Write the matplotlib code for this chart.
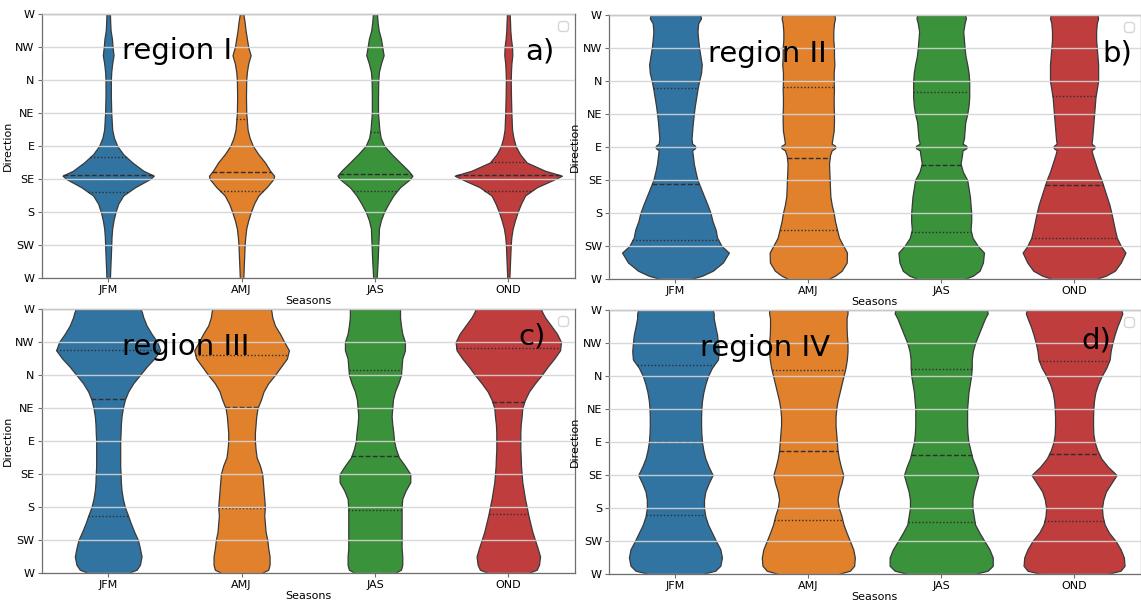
import numpy as np
import matplotlib
matplotlib.use("Agg")
import matplotlib.pyplot as plt

# ---------------- data ----------------
seasons = ["JFM", "AMJ", "JAS", "OND"]
direction_labels = ["W", "SW", "S", "SE", "E", "NE", "N", "NW", "W"]
colors = ["#3274a1", "#e1812c", "#3a923a", "#c03d3e"]

regions = ["region I", "region II", "region III", "region IV"]
panel_tags = ["a)", "b)", "c)", "d)"]

# density half-widths (in category units) read at the given direction levels
y_a = [0, 0.5, 1, 1.25, 1.5, 1.75, 2, 2.25, 2.5, 2.75, 3, 3.1, 3.25, 3.5, 3.75,
       4, 4.25, 4.5, 5, 5.5, 6, 6.25, 6.5, 6.75, 7, 7.25, 7.5, 7.75, 8]
a_jfm = [0.013, 0.018, 0.023, 0.025, 0.030, 0.040, 0.055, 0.075, 0.113, 0.201, 0.314, 0.342, 0.264, 0.181, 0.113,
         0.068, 0.043, 0.030, 0.023, 0.020, 0.020, 0.023, 0.030, 0.040, 0.033, 0.028, 0.018, 0.015, 0.013]
a_amj = [0.013, 0.018, 0.023, 0.028, 0.035, 0.050, 0.070, 0.093, 0.126, 0.188, 0.239, 0.244, 0.214, 0.176, 0.126,
         0.085, 0.060, 0.045, 0.035, 0.033, 0.035, 0.040, 0.050, 0.068, 0.050, 0.040, 0.030, 0.023, 0.013]
a_jas = [0.013, 0.020, 0.025, 0.028, 0.030, 0.045, 0.068, 0.101, 0.138, 0.188, 0.264, 0.281, 0.251, 0.188, 0.126,
         0.070, 0.043, 0.033, 0.023, 0.023, 0.025, 0.030, 0.045, 0.065, 0.055, 0.045, 0.028, 0.020, 0.015]
a_ond = [0.008, 0.013, 0.018, 0.023, 0.033, 0.050, 0.070, 0.095, 0.126, 0.214, 0.352, 0.402, 0.276, 0.138, 0.088,
         0.055, 0.038, 0.028, 0.023, 0.020, 0.018, 0.020, 0.023, 0.030, 0.028, 0.020, 0.015, 0.013, 0.010]

y_b = [0, 0.1, 0.25, 0.5, 0.8, 1, 1.25, 1.5, 1.75, 2, 2.25, 2.5, 2.75, 3, 3.25, 3.5, 3.75, 3.9, 3.96, 4, 4.04, 4.1,
       4.25, 4.5, 4.75, 5, 5.25, 5.5, 5.75, 6, 6.25, 6.5, 6.75, 7, 7.25, 7.5, 7.75, 7.9, 8]
b_jfm = [0.113, 0.201, 0.281, 0.357, 0.402, 0.347, 0.314, 0.302, 0.279, 0.264, 0.241, 0.216, 0.191, 0.166, 0.151,
         0.138, 0.131, 0.126, 0.146, 0.151, 0.146, 0.126, 0.121, 0.126, 0.131, 0.138, 0.146, 0.156, 0.166, 0.178,
         0.193, 0.198, 0.188, 0.178, 0.171, 0.166, 0.171, 0.193, 0.186]
b_amj = [0.151, 0.201, 0.251, 0.289, 0.291, 0.264, 0.231, 0.216, 0.201, 0.191, 0.176, 0.166, 0.163, 0.161, 0.158,
         0.156, 0.163, 0.176, 0.200, 0.206, 0.200, 0.176, 0.181, 0.191, 0.193, 0.193, 0.191, 0.191, 0.193, 0.191,
         0.191, 0.196, 0.193, 0.193, 0.188, 0.188, 0.193, 0.201, 0.196]
b_jas = [0.176, 0.239, 0.289, 0.314, 0.322, 0.276, 0.236, 0.221, 0.226, 0.226, 0.221, 0.216, 0.206, 0.196, 0.163,
         0.146, 0.156, 0.161, 0.188, 0.193, 0.188, 0.161, 0.171, 0.176, 0.181, 0.196, 0.206, 0.211, 0.211, 0.211,
         0.206, 0.196, 0.183, 0.176, 0.171, 0.166, 0.176, 0.186, 0.181]
b_ond = [0.163, 0.239, 0.307, 0.352, 0.387, 0.352, 0.322, 0.307, 0.294, 0.281, 0.266, 0.246, 0.226, 0.206, 0.181,
         0.161, 0.141, 0.131, 0.151, 0.156, 0.151, 0.131, 0.136, 0.141, 0.146, 0.151, 0.156, 0.161, 0.171, 0.181,
         0.181, 0.181, 0.176, 0.171, 0.166, 0.166, 0.171, 0.181, 0.176]

y_cd = [0, 0.1, 0.25, 0.5, 0.75, 1, 1.25, 1.5, 1.75, 2, 2.25, 2.5, 2.75, 3, 3.25, 3.5, 3.75, 4,
        4.25, 4.5, 4.75, 5, 5.25, 5.5, 5.75, 6, 6.25, 6.5, 6.75, 7, 7.25, 7.5, 7.75, 7.9, 8]
c_jfm = [0.150, 0.213, 0.238, 0.250, 0.238, 0.223, 0.195, 0.170, 0.148, 0.125, 0.110, 0.100, 0.095, 0.093, 0.090,
         0.090, 0.090, 0.090, 0.093, 0.095, 0.100, 0.110, 0.125, 0.150, 0.188, 0.238, 0.288, 0.345, 0.390, 0.368,
         0.325, 0.288, 0.263, 0.253, 0.243]
c_amj = [0.150, 0.200, 0.210, 0.210, 0.200, 0.193, 0.180, 0.175, 0.170, 0.175, 0.170, 0.165, 0.160, 0.155, 0.138,
         0.113, 0.105, 0.100, 0.100, 0.105, 0.110, 0.120, 0.145, 0.165, 0.200, 0.250, 0.295, 0.340, 0.355, 0.320,
         0.288, 0.250, 0.230, 0.225, 0.220]
c_jas = [0.150, 0.195, 0.205, 0.205, 0.200, 0.200, 0.200, 0.200, 0.200, 0.200, 0.205, 0.230, 0.265, 0.265, 0.225,
         0.180, 0.158, 0.143, 0.138, 0.130, 0.125, 0.130, 0.135, 0.150, 0.175, 0.195, 0.200, 0.205, 0.225, 0.225,
         0.205, 0.195, 0.188, 0.188, 0.188]
c_ond = [0.150, 0.213, 0.230, 0.238, 0.220, 0.200, 0.180, 0.165, 0.150, 0.138, 0.125, 0.115, 0.105, 0.100, 0.095,
         0.093, 0.090, 0.090, 0.090, 0.093, 0.100, 0.105, 0.125, 0.155, 0.200, 0.250, 0.295, 0.345, 0.388, 0.395,
         0.365, 0.320, 0.275, 0.255, 0.245]

d_jfm = [0.200, 0.300, 0.338, 0.350, 0.338, 0.305, 0.275, 0.245, 0.225, 0.215, 0.215, 0.225, 0.250, 0.280, 0.250,
         0.225, 0.210, 0.200, 0.195, 0.193, 0.193, 0.195, 0.200, 0.210, 0.225, 0.245, 0.275, 0.320, 0.325, 0.320,
         0.313, 0.300, 0.288, 0.288, 0.280]
d_amj = [0.225, 0.313, 0.345, 0.350, 0.338, 0.313, 0.288, 0.265, 0.250, 0.230, 0.220, 0.230, 0.250, 0.263, 0.245,
         0.230, 0.220, 0.215, 0.210, 0.205, 0.205, 0.210, 0.220, 0.235, 0.250, 0.265, 0.280, 0.290, 0.295, 0.295,
         0.290, 0.288, 0.288, 0.295, 0.295]
d_jas = [0.250, 0.350, 0.388, 0.388, 0.363, 0.325, 0.288, 0.255, 0.245, 0.235, 0.235, 0.245, 0.263, 0.280, 0.260,
         0.235, 0.220, 0.205, 0.198, 0.195, 0.195, 0.195, 0.200, 0.205, 0.215, 0.225, 0.230, 0.230, 0.238, 0.255,
         0.280, 0.305, 0.330, 0.350, 0.345]
d_ond = [0.250, 0.350, 0.380, 0.375, 0.350, 0.313, 0.263, 0.230, 0.215, 0.210, 0.220, 0.240, 0.280, 0.320, 0.255,
         0.205, 0.175, 0.155, 0.145, 0.143, 0.143, 0.145, 0.150, 0.160, 0.180, 0.208, 0.243, 0.268, 0.275, 0.288,
         0.305, 0.325, 0.350, 0.363, 0.355]

# quartiles (Q1, median, Q3) per season, per region
quart_a = [[2.61, 3.11, 3.67], [2.63, 3.22, 4.81], [2.65, 3.16, 4.43], [2.65, 3.11, 3.53]]
quart_b = [[1.17, 2.89, 5.78], [1.50, 3.68, 5.81], [1.43, 3.46, 5.67], [1.24, 2.86, 5.55]]
quart_c = [[1.73, 5.28, 6.77], [1.98, 5.04, 6.60], [1.91, 3.54, 6.14], [1.80, 5.17, 6.83]]
quart_d = [[1.78, 3.99, 6.32], [1.64, 3.73, 6.17], [1.57, 3.61, 6.20], [1.60, 3.65, 6.45]]

panels = [
    (y_a, [a_jfm, a_amj, a_jas, a_ond], quart_a),
    (y_b, [b_jfm, b_amj, b_jas, b_ond], quart_b),
    (y_cd, [c_jfm, c_amj, c_jas, c_ond], quart_c),
    (y_cd, [d_jfm, d_amj, d_jas, d_ond], quart_d),
]

# ---------------- layout ----------------
W, H = 1141, 601
fig = plt.figure(figsize=(W / 100, H / 100), dpi=100)
fig.patch.set_facecolor("white")

# axes boxes in pixels: left, top, right, bottom
boxes = [(41.5, 14, 575, 278), (609, 15, 1140.5, 279),
         (41.5, 309, 575, 573), (609, 310, 1140.5, 574)]
tag_pos = [(0.906, 0.826), (0.929, 0.823), (0.893, 0.867), (0.889, 0.856)]
region_pos = [(0.151, 0.828), (0.186, 0.823), (0.151, 0.826), (0.171, 0.826)]

edge = "#3a3a3a"
spine_col = "#6e6e6e"
fs = 8

for k, (yy, widths, quarts) in enumerate(panels):
    l, t, r, b = boxes[k]
    ax = fig.add_axes([l / W, 1 - b / H, (r - l) / W, (b - t) / H])
    yy = np.asarray(yy)
    for i, (w, q) in enumerate(zip(widths, quarts)):
        w = np.asarray(w)
        ax.fill_betweenx(yy, i - w, i + w, facecolor=colors[i], edgecolor=edge,
                         linewidth=0.9, joinstyle="round", zorder=1)
        for j, qv in enumerate(q):
            hw = np.interp(qv, yy, w)
            ls = (0, (3.5, 1.6)) if j == 1 else (0, (1.0, 1.5))
            ax.plot([i - hw, i + hw], [qv, qv], color="#2e2e2e", lw=1.0, ls=ls, zorder=2)

    ax.set_xlim(-0.5, 3.5)
    ax.set_ylim(0, 8)
    ax.set_xticks(range(4))
    ax.set_xticklabels(seasons, fontsize=fs)
    ax.set_yticks(range(9))
    ax.set_yticklabels(direction_labels, fontsize=fs)
    ax.set_xlabel("Seasons", fontsize=fs, labelpad=1)
    ax.set_ylabel("Direction", fontsize=fs, labelpad=2)
    ax.tick_params(axis="both", length=3, width=0.8, color=spine_col, pad=2)
    ax.set_axisbelow(False)
    ax.yaxis.grid(True, color="#d4d4d4", lw=1.0, alpha=0.9)
    ax.xaxis.grid(False)
    for s in ax.spines.values():
        s.set_color(spine_col)
        s.set_linewidth(0.9)

    ax.text(region_pos[k][0], region_pos[k][1], regions[k], transform=ax.transAxes,
            fontsize=21, ha="left", va="baseline", color="black", zorder=5)
    ax.text(tag_pos[k][0], tag_pos[k][1], panel_tags[k], transform=ax.transAxes,
            fontsize=21, ha="left", va="baseline", color="black", zorder=5)
    ax.legend(handles=[], loc="upper right", frameon=True, borderpad=0.35,
              fancybox=True, framealpha=0.8, edgecolor="#cccccc")

fig.savefig("out.png", dpi=100, facecolor="white")
